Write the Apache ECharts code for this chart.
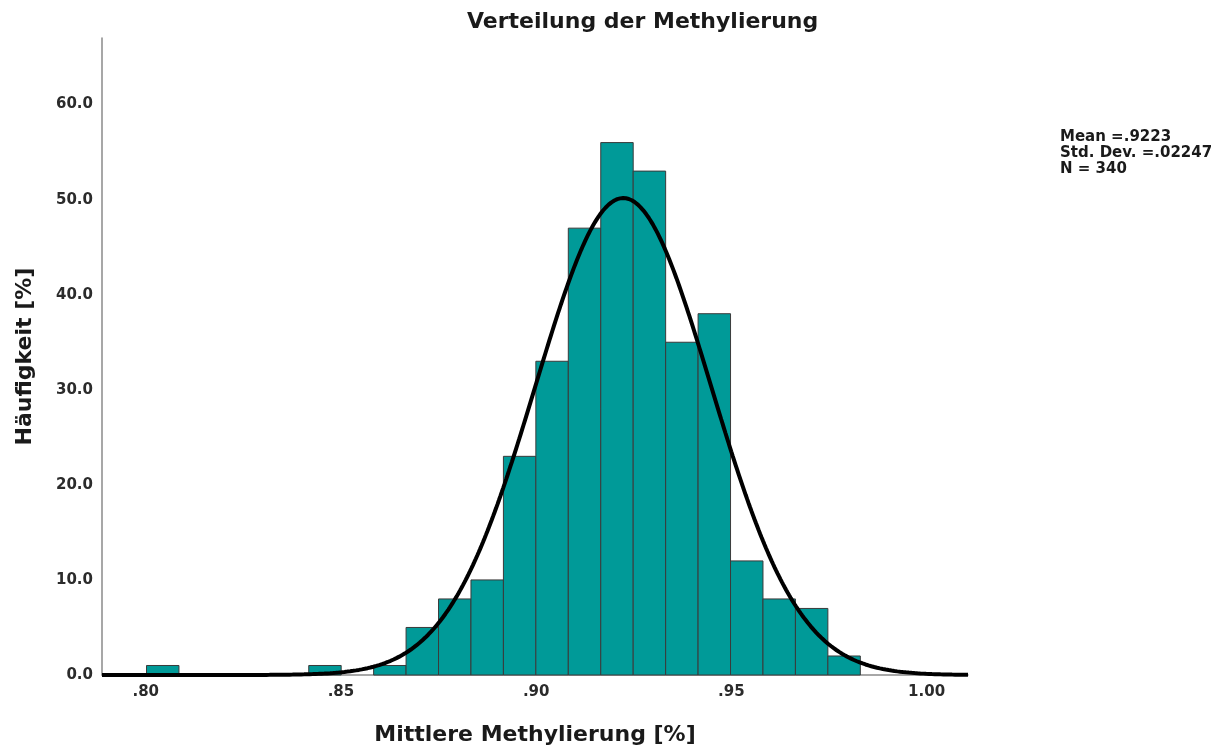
<!DOCTYPE html>
<html>
<head>
<meta charset="utf-8">
<title>Verteilung der Methylierung</title>
<script src="https://cdn.jsdelivr.net/npm/echarts@6/dist/echarts.min.js"></script>
<style>
  html, body { margin: 0; padding: 0; background: #ffffff; }
  #chart { width: 1221px; height: 751px; }
</style>
</head>
<body>
<div id="chart"></div>
<script>
// Histogram of mean methylation (340 samples), 22 equal-width bins
const binStart = 0.8002;
const binWidth = 0.00831;
const binCounts = [1, 0, 0, 0, 0, 1, 0, 1, 5, 8, 10, 23, 33, 47, 56, 53, 35, 38, 12, 8, 7, 2];

// Summary statistics of the sample
const sampleMean = 0.9223;
const sampleSD = 0.02247;
const sampleN = 340;

// Axis ranges and tick labels
const xRange = [0.7888, 1.0106];
const yRange = [0, 67];
const xTickValues = [0.80, 0.85, 0.90, 0.95, 1.00];
const xTickLabels = ['.80', '.85', '.90', '.95', '1.00'];
const yTickValues = [0, 10, 20, 30, 40, 50, 60];
const yTickLabels = ['0.0', '10.0', '20.0', '30.0', '40.0', '50.0', '60.0'];

const FONT = "'DejaVu Sans', 'Liberation Sans', Arial, sans-serif";

// Bars as [lower edge, upper edge, count]
const bars = binCounts.map((c, i) => [binStart + i * binWidth, binStart + (i + 1) * binWidth, c]);

// Fitted normal curve scaled to the count axis (N * bin width * density)
const curve = [];
const steps = 600;
for (let k = 0; k <= steps; k++) {
  const x = xRange[0] + (xRange[1] - xRange[0]) * k / steps;
  const z = (x - sampleMean) / sampleSD;
  const y = sampleN * binWidth * Math.exp(-0.5 * z * z) / (sampleSD * Math.sqrt(2 * Math.PI));
  curve.push([x, y]);
}

function noLeadZero(v, d) {
  return v.toFixed(d).replace(/^0\./, '.');
}

function pickLabel(list, values, v) {
  for (let i = 0; i < values.length; i++) {
    if (Math.abs(values[i] - v) < 1e-6) return list[i];
  }
  return '';
}

const chart = echarts.init(document.getElementById('chart'), null, { renderer: 'canvas' });

chart.setOption({
  backgroundColor: '#ffffff',
  animation: false,
  title: [
    {
      text: 'Verteilung der Methylierung',
      left: 462,
      top: 6,
      textStyle: { fontFamily: FONT, fontWeight: 'bold', fontSize: 22, color: '#1a1a1a' }
    },
    {
      text: 'Mean =' + noLeadZero(sampleMean, 4) + '\nStd. Dev. =' + noLeadZero(sampleSD, 5) + '\nN = ' + sampleN,
      left: 1060,
      top: 129,
      padding: 0,
      textStyle: { fontFamily: FONT, fontWeight: 'bold', fontSize: 15, lineHeight: 16, color: '#1a1a1a' }
    }
  ],
  grid: { left: 102, right: 253, top: 38, bottom: 75, containLabel: false },
  xAxis: {
    type: 'value',
    min: xRange[0],
    max: xRange[1],
    splitNumber: 5,
    name: 'Mittlere Methylierung [%]',
    nameLocation: 'middle',
    nameGap: 49,
    nameTextStyle: { fontFamily: FONT, fontWeight: 'bold', fontSize: 22, color: '#1a1a1a' },
    axisLine: { show: true, lineStyle: { color: '#8a8a8a', width: 1.5 } },
    axisTick: { show: false },
    splitLine: { show: false },
    axisLabel: {
      margin: 10,
      fontFamily: FONT, fontWeight: 'bold', fontSize: 15, color: '#2b2b2b',
      showMinLabel: false, showMaxLabel: false,
      formatter: v => pickLabel(xTickLabels, xTickValues, v)
    }
  },
  yAxis: {
    type: 'value',
    min: yRange[0],
    max: yRange[1],
    interval: 10,
    name: 'Häufigkeit [%]',
    nameLocation: 'middle',
    nameGap: 66,
    nameRotate: 90,
    nameTextStyle: { fontFamily: FONT, fontWeight: 'bold', fontSize: 22, color: '#1a1a1a' },
    axisLine: { show: true, lineStyle: { color: '#8a8a8a', width: 1.5 } },
    axisTick: { show: false },
    splitLine: { show: false },
    axisLabel: {
      margin: 9,
      fontFamily: FONT, fontWeight: 'bold', fontSize: 15, color: '#2b2b2b',
      showMaxLabel: false,
      formatter: v => pickLabel(yTickLabels, yTickValues, v)
    }
  },
  series: [
    {
      type: 'custom',
      name: 'Häufigkeit',
      data: bars,
      encode: { x: [0, 1], y: 2 },
      z: 2,
      renderItem: function (params, api) {
        const count = api.value(2);
        if (!count) return null;
        const topLeft = api.coord([api.value(0), count]);
        const bottomRight = api.coord([api.value(1), 0]);
        return {
          type: 'rect',
          shape: {
            x: topLeft[0],
            y: topLeft[1],
            width: bottomRight[0] - topLeft[0],
            height: bottomRight[1] - topLeft[1]
          },
          style: { fill: '#009a98', stroke: '#3a3a3a', lineWidth: 1 }
        };
      }
    },
    {
      type: 'line',
      name: 'Normal',
      data: curve,
      showSymbol: false,
      smooth: false,
      z: 5,
      lineStyle: { color: '#000000', width: 4 }
    }
  ]
});
</script>
</body>
</html>
